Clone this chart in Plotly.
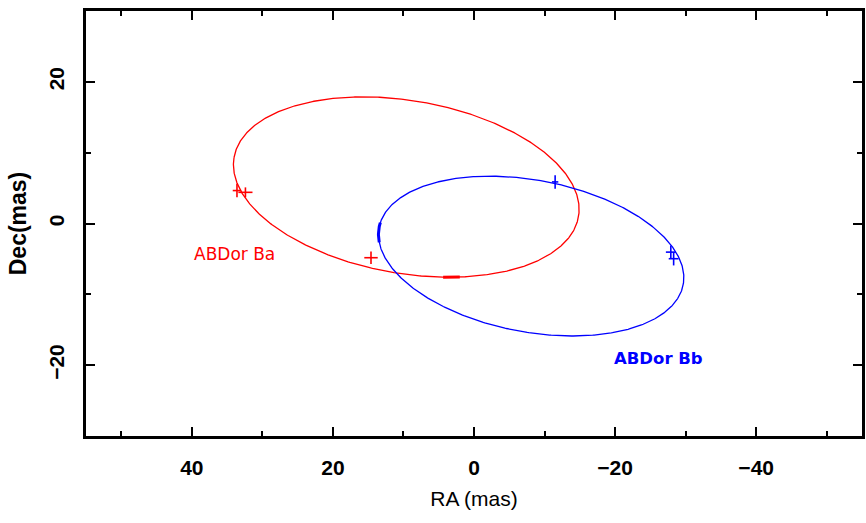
import numpy as np
import plotly.graph_objects as go

# Relative astrometry of AB Dor Ba / Bb (mas)
# Apparent orbit ellipses: centre (RA, Dec), semi-major, semi-minor, tilt (deg)
orbit_ba = dict(cx=9.6, cy=5.15, a=24.77, b=12.2, tilt=9.7)
orbit_bb = dict(cx=-8.1, cy=-4.6, a=21.93, b=10.72, tilt=10.6)

# Epoch ticks along each orbit (RA, Dec, half-length in radians of orbit phase)
tick_ba = (3.1, -7.4, 0.05)
tick_bb = (13.2, -1.3, 0.13)

# Measured positions with errors
ba_ra = [33.6, 32.4, 14.6]
ba_dec = [4.65, 4.4, -4.83]
ba_ra_err = [0.6, 1.0, 0.95]
ba_dec_err = [0.95, 0.7, 0.87]

bb_ra = [-11.5, -27.9, -28.3]
bb_dec = [5.87, -4.04, -4.97]
bb_ra_err = [0.45, 0.7, 0.7]
bb_dec_err = [0.95, 0.95, 0.95]

labels = ["ABDor Ba", "ABDor Bb"]
label_ra = [33.9, -26.1]
label_dec = [-4.3, -19.0]

RED = "#ff0000"
BLUE = "#0000ff"
TICK_FONT = "Liberation Sans, Arial, sans-serif"


def ellipse_at(o, t):
    p = np.deg2rad(o["tilt"])
    x = o["cx"] + o["a"] * np.cos(t) * np.cos(p) - o["b"] * np.sin(t) * np.sin(p)
    y = o["cy"] + o["a"] * np.cos(t) * np.sin(p) + o["b"] * np.sin(t) * np.cos(p)
    return x, y


fig = go.Figure()

for orb, tk, col in [(orbit_ba, tick_ba, RED), (orbit_bb, tick_bb, BLUE)]:
    t = np.linspace(0, 2 * np.pi, 600)
    ex, ey = ellipse_at(orb, t)
    fig.add_trace(go.Scatter(x=ex, y=ey, mode="lines",
                             line=dict(color=col, width=1.3),
                             hoverinfo="skip", showlegend=False))
    # short heavier stroke at the orbit point nearest the tick position
    t0 = t[np.argmin((ex - tk[0]) ** 2 + (ey - tk[1]) ** 2)]
    ts = np.linspace(t0 - tk[2], t0 + tk[2], 20)
    sx, sy = ellipse_at(orb, ts)
    fig.add_trace(go.Scatter(x=sx, y=sy, mode="lines",
                             line=dict(color=col, width=3),
                             hoverinfo="skip", showlegend=False))

for ra, dec, rae, dece, col in [(ba_ra, ba_dec, ba_ra_err, ba_dec_err, RED),
                                (bb_ra, bb_dec, bb_ra_err, bb_dec_err, BLUE)]:
    fig.add_trace(go.Scatter(
        x=ra, y=dec, mode="markers",
        marker=dict(size=1, color=col),
        error_x=dict(type="data", array=rae, color=col, thickness=1.6, width=0),
        error_y=dict(type="data", array=dece, color=col, thickness=1.6, width=0),
        showlegend=False))

fig.add_annotation(x=label_ra[0], y=label_dec[0], text=labels[0], showarrow=False,
                   font=dict(family="DejaVu Sans", size=17, color=RED))
fig.add_annotation(x=label_ra[1], y=label_dec[1], text=labels[1], showarrow=False,
                   font=dict(family="DejaVu Sans", size=16.5, color=BLUE, weight="bold"))

axis_common = dict(
    showline=True, linecolor="black", linewidth=2.5, mirror="ticks",
    ticks="inside", ticklen=9, tickwidth=2, tickcolor="black",
    showgrid=False, zeroline=False,
    tickfont=dict(family=TICK_FONT, size=21, color="black", weight="bold"),
    minor=dict(ticks="inside", ticklen=5, tickwidth=2, tickcolor="black", dtick=10, showgrid=False),
)

fig.update_xaxes(range=[55, -55], tickvals=[40, 20, 0, -20, -40],
                 ticklabelstandoff=11,
                 title=dict(text="RA (mas)", standoff=14,
                            font=dict(family="Liberation Sans", size=21, color="black")),
                 **axis_common)
fig.update_xaxes(minor=dict(tick0=50))
fig.update_yaxes(range=[-30, 30], tickvals=[20, 0, -20], tickangle=-90,
                 ticklabelstandoff=11,
                 title=dict(text="Dec(mas)", standoff=12,
                            font=dict(family="Liberation Sans", size=23, color="black", weight="bold")),
                 **axis_common)
fig.update_yaxes(minor=dict(tick0=0))

fig.update_layout(
    width=866, height=523,
    margin=dict(l=86, r=1, t=11, b=87),
    plot_bgcolor="white", paper_bgcolor="white",
)

fig.write_html("out.html")
